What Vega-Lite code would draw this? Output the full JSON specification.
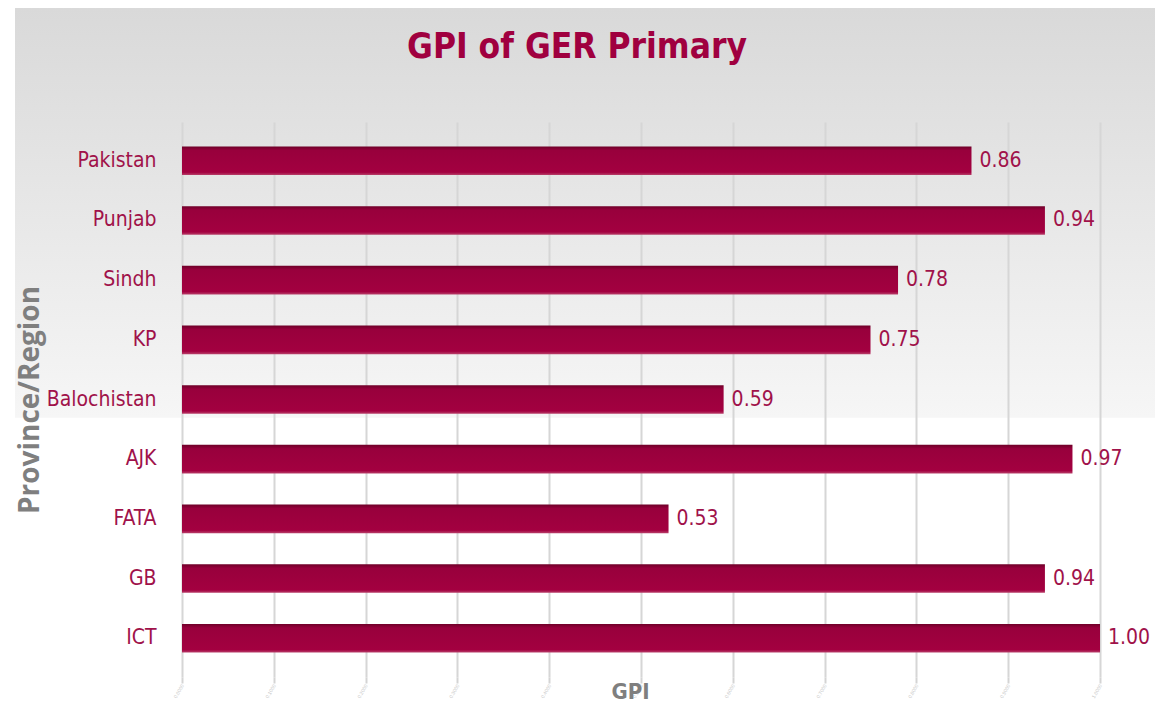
{
  "$schema": "https://vega.github.io/schema/vega-lite/v6.json",
  "padding": {"left": 15, "top": 8, "right": 0, "bottom": 0},
  "background": "#ffffff",
  "spacing": 0,
  "columns": 1,
  "concat": [
    {
      "width": 1140,
      "height": 114,
      "view": {
        "stroke": null,
        "fill": {
          "gradient": "linear",
          "x1": 0, "y1": 0, "x2": 0, "y2": 1,
          "stops": [
            {"offset": 0, "color": "#d9d9d9"},
            {"offset": 1, "color": "#e1e1e1"}
          ]
        }
      },
      "data": {"values": [{"title": "GPI of GER Primary"}]},
      "mark": {
        "type": "text",
        "font": "DejaVu Sans Condensed, sans-serif",
        "fontSize": 35,
        "fontWeight": "bold",
        "color": "#a0003f",
        "baseline": "alphabetic",
        "dy": -7,
        "dx": -8
      },
      "encoding": {"text": {"field": "title", "type": "nominal"}}
    },
    {
      "width": 1140,
      "height": 555,
      "view": {
        "stroke": null,
        "fill": {
          "gradient": "linear",
          "x1": 0, "y1": 0, "x2": 0, "y2": 1,
          "stops": [
            {"offset": 0, "color": "#e1e1e1"},
            {"offset": 0.532, "color": "#f6f6f6"},
            {"offset": 0.534, "color": "#ffffff"},
            {"offset": 1, "color": "#ffffff"}
          ]
        }
      },
      "data": {
        "values": [
          {"region": "Pakistan", "GPI": 0.86},
          {"region": "Punjab", "GPI": 0.94},
          {"region": "Sindh", "GPI": 0.78},
          {"region": "KP", "GPI": 0.75},
          {"region": "Balochistan", "GPI": 0.59},
          {"region": "AJK", "GPI": 0.97},
          {"region": "FATA", "GPI": 0.53},
          {"region": "GB", "GPI": 0.94},
          {"region": "ICT", "GPI": 1.0}
        ]
      },
      "encoding": {
        "y": {
          "field": "region",
          "type": "nominal",
          "sort": null,
          "scale": {"paddingInner": 0.52, "paddingOuter": 0.41},
          "axis": {
            "title": "Province/Region",
            "titleFont": "Open Sans, sans-serif",
            "titleFontSize": 28,
            "titleFontWeight": "bold",
            "titleColor": "#7f7f7f",
            "titlePadding": 2,
            "labelFont": "DejaVu Sans Condensed, sans-serif",
            "labelFontSize": 21,
            "labelColor": "#a0124a",
            "labelPadding": 26,
            "offset": -167,
            "ticks": false,
            "domain": false,
            "grid": false
          }
        },
        "x": {
          "field": "GPI",
          "type": "quantitative",
          "scale": {"domain": [-0.1819, 1.0599], "nice": false, "zero": false},
          "axis": {
            "title": "GPI",
            "titleFont": "DejaVu Sans Condensed, sans-serif",
            "titleFontSize": 22,
            "titleFontWeight": "bold",
            "titleColor": "#7f7f7f",
            "titleX": 615,
            "titleY": 21,
            "titleBaseline": "alphabetic",
            "values": [0, 0.1, 0.2, 0.3, 0.4, 0.5, 0.6, 0.7, 0.8, 0.9, 1.0],
            "format": ".4f",
            "labelFontSize": 5,
            "labelColor": "#c8c8c8",
            "labelAngle": -60,
            "labelPadding": 1,
            "tickColor": "#d4d4d4",
            "tickWidth": 2,
            "tickSize": 6,
            "grid": true,
            "gridColor": "#d6d6d6",
            "gridWidth": 2,
            "domain": false
          }
        }
      },
      "layer": [
        {
          "mark": {
            "type": "bar",
            "color": {
              "gradient": "linear",
              "x1": 0, "y1": 0, "x2": 0, "y2": 1,
              "stops": [
                {"offset": 0, "color": "#6e0028"},
                {"offset": 0.14, "color": "#98003c"},
                {"offset": 0.9, "color": "#a30040"},
                {"offset": 1, "color": "#b8406a"}
              ]
            }
          }
        },
        {
          "mark": {
            "type": "text",
            "align": "left",
            "baseline": "middle",
            "dx": 8,
            "font": "DejaVu Sans Condensed, sans-serif",
            "fontSize": 21,
            "color": "#a0124a"
          },
          "encoding": {
            "text": {"field": "GPI", "type": "quantitative", "format": ".2f"}
          }
        }
      ]
    }
  ]
}
